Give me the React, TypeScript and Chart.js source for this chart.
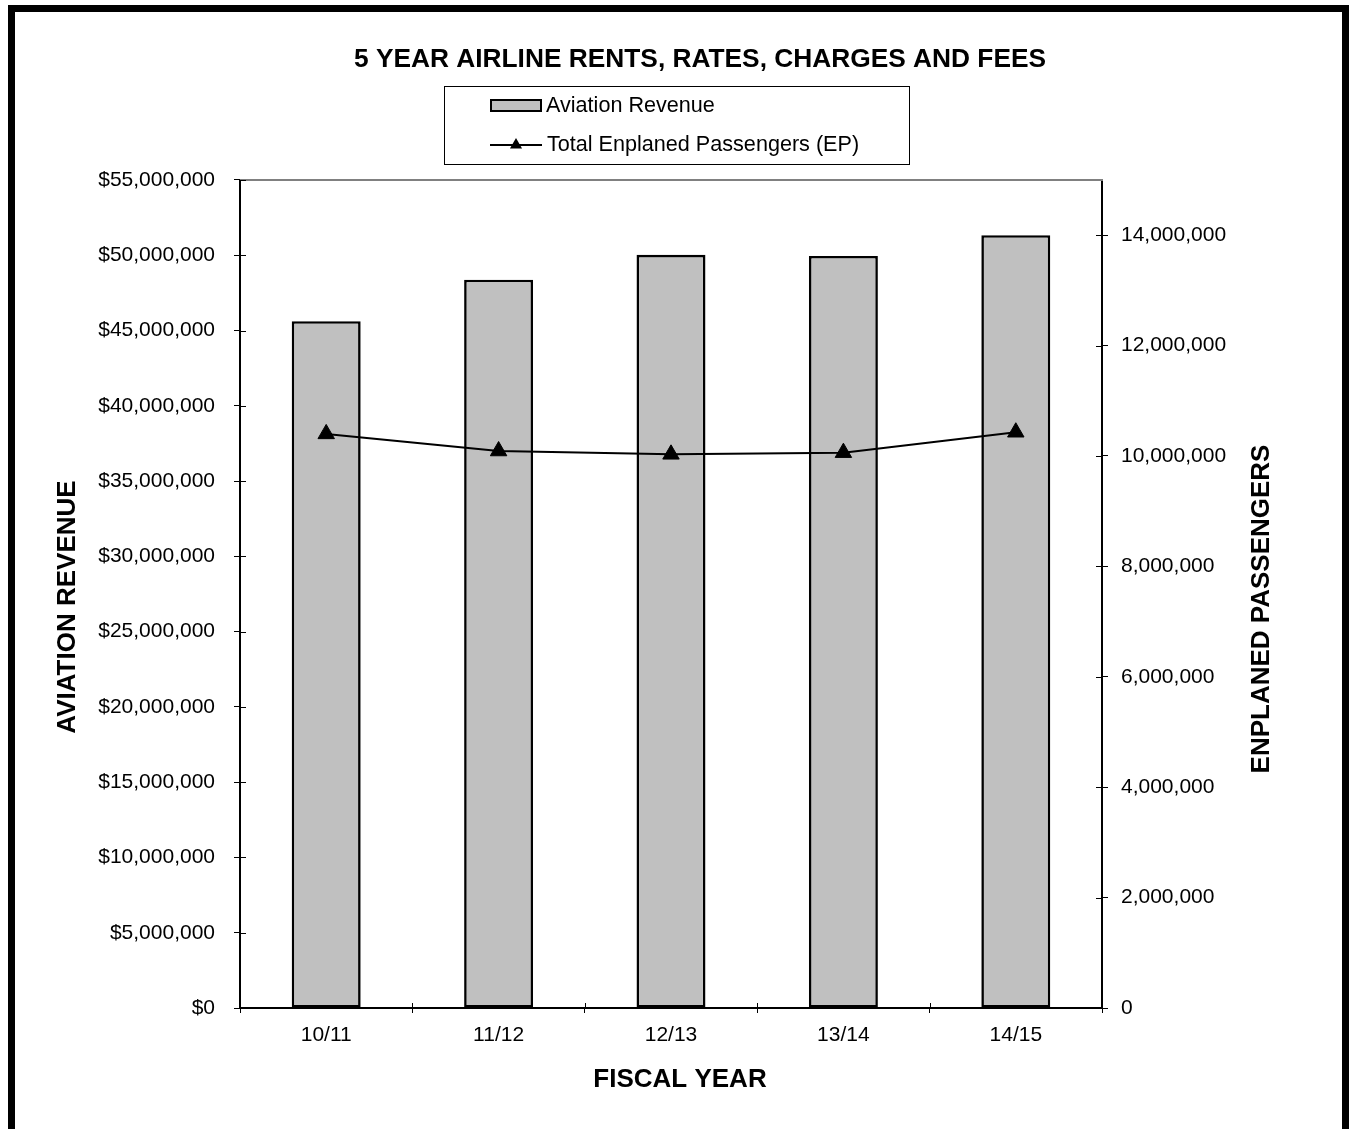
import React, { useEffect, useRef } from 'react';
import { Chart, registerables } from 'chart.js';

Chart.register(...registerables);

// ---- data ----
const categories = ['10/11', '11/12', '12/13', '13/14', '14/15'];
const aviationRevenue = [45620000, 48380000, 50030000, 49950000, 51330000];
const enplanedPassengers = [10400000, 10090000, 10030000, 10060000, 10430000];
const revenueTicks = [0, 5000000, 10000000, 15000000, 20000000, 25000000, 30000000, 35000000, 40000000, 45000000, 50000000, 55000000];
const passengerTicks = [0, 2000000, 4000000, 6000000, 8000000, 10000000, 12000000, 14000000];
const revenueMax = 55000000;
const passengerMax = 15000000;

const chartTitle = '5 YEAR AIRLINE RENTS, RATES, CHARGES AND FEES';
const xTitle = 'FISCAL YEAR';
const yTitle = 'AVIATION REVENUE';
const y1Title = 'ENPLANED PASSENGERS';
const barLabel = 'Aviation Revenue';
const lineLabel = 'Total Enplaned Passengers (EP)';

const FONT = '"Liberation Sans", Arial, Helvetica, sans-serif';
const BAR_FILL = '#c0c0c0';

const decorPlugin = {
  id: 'decor',
  beforeDraw(chart: any) {
    const { ctx, width, height } = chart;
    ctx.save();
    ctx.fillStyle = '#ffffff';
    ctx.fillRect(0, 0, width, height);
    ctx.restore();
  },
  afterDraw(chart: any) {
    const { ctx, chartArea: ca, scales } = chart;
    const line = (x1: number, y1: number, x2: number, y2: number) => {
      ctx.beginPath();
      ctx.moveTo(x1, y1);
      ctx.lineTo(x2, y2);
      ctx.stroke();
    };
    ctx.save();
    // top frame line of plot area
    ctx.strokeStyle = '#808080';
    ctx.lineWidth = 2;
    line(ca.left, ca.top, ca.right + 1, ca.top);

    // inner halves of crossing tick marks
    ctx.strokeStyle = '#000';
    ctx.lineWidth = 1;
    const x = scales.x;
    for (let i = 0; i <= categories.length; i++) {
      const px = Math.round(x.getPixelForValue(i - 0.5)) + 0.5;
      line(px, ca.bottom - 5, px, ca.bottom);
    }
    scales.y.ticks.forEach((t: any) => {
      const py = Math.round(scales.y.getPixelForValue(t.value)) + 0.5;
      line(ca.left, py, ca.left + 6, py);
    });
    scales.y1.ticks.forEach((t: any) => {
      const py = Math.round(scales.y1.getPixelForValue(t.value)) + 0.5;
      line(ca.right - 6, py, ca.right, py);
    });

    // axis titles
    ctx.fillStyle = '#000';
    ctx.font = `bold 26px ${FONT}`;
    ctx.textAlign = 'center';
    ctx.textBaseline = 'middle';
    ctx.fillText(xTitle, 680, 1080);
    ctx.save();
    ctx.translate(68, 607);
    ctx.rotate(-Math.PI / 2);
    ctx.fillText(yTitle, 0, 0);
    ctx.restore();
    ctx.save();
    ctx.translate(1262, 609);
    ctx.rotate(-Math.PI / 2);
    ctx.fillText(y1Title, 0, 0);
    ctx.restore();

    // legend
    ctx.strokeStyle = '#000';
    ctx.lineWidth = 1;
    ctx.strokeRect(444.5, 86.5, 465, 78);
    ctx.fillStyle = BAR_FILL;
    ctx.fillRect(491, 100, 50, 11);
    ctx.lineWidth = 2;
    ctx.strokeRect(491, 100, 50, 11);
    line(490, 145, 542, 145);
    ctx.fillStyle = '#000';
    const r = 7;
    ctx.beginPath();
    ctx.moveTo(516, 145 - r);
    ctx.lineTo(516 + r * 0.866, 145 + r / 2);
    ctx.lineTo(516 - r * 0.866, 145 + r / 2);
    ctx.closePath();
    ctx.fill();
    ctx.font = `21.6px ${FONT}`;
    ctx.textAlign = 'left';
    ctx.fillText(chart.data.datasets[1].label, 546, 106);
    ctx.fillText(chart.data.datasets[0].label, 547, 145);

    // outer thick border
    ctx.strokeStyle = '#000';
    ctx.lineWidth = 7;
    ctx.strokeRect(11.5, 8.5, 1334, 1160);
    ctx.restore();
  },
};

export default function App() {
  const ref = useRef<HTMLCanvasElement>(null);
  useEffect(() => {
    Chart.defaults.font.family = FONT;
    Chart.defaults.color = '#000';
    const chart = new Chart(ref.current as HTMLCanvasElement, {
      type: 'bar',
      data: {
        labels: categories,
        datasets: [
          {
            type: 'line',
            label: lineLabel,
            data: enplanedPassengers,
            yAxisID: 'y1',
            borderColor: '#000',
            borderWidth: 2,
            tension: 0,
            pointStyle: 'triangle',
            pointRadius: 9.5,
            pointBackgroundColor: '#000',
            pointBorderColor: '#000',
            pointBorderWidth: 1,
            order: 0,
          } as any,
          {
            type: 'bar',
            label: barLabel,
            data: aviationRevenue,
            yAxisID: 'y',
            backgroundColor: BAR_FILL,
            borderColor: '#000',
            borderWidth: 2.6,
            borderSkipped: false,
            barPercentage: 0.4,
            categoryPercentage: 1.0,
            order: 1,
          },
        ],
      },
      options: {
        responsive: false,
        animation: false,
        devicePixelRatio: 1,
        layout: { padding: { left: 56, right: 8, top: 0, bottom: 0 } },
        plugins: {
          legend: { display: false },
          tooltip: { enabled: false },
          title: {
            display: true,
            text: chartTitle,
            color: '#000',
            font: { size: 26.3, weight: 'bold', family: FONT, lineHeight: 1.2 },
            padding: { top: 44.2, bottom: 104.2 },
          },
        },
        scales: {
          x: {
            offset: true,
            grid: { drawOnChartArea: false, drawTicks: true, tickLength: 5, color: '#000', lineWidth: 1, offset: true },
            border: { display: true, color: '#000', width: 2 },
            ticks: { font: { size: 21, family: FONT }, color: '#000', padding: 10, maxRotation: 0 },
            afterFit: (s: any) => {
              s.height = 121;
            },
          },
          y: {
            position: 'left',
            min: 0,
            max: revenueMax,
            grid: { drawOnChartArea: false, drawTicks: true, tickLength: 6, color: '#000', lineWidth: 1 },
            border: { display: true, color: '#000', width: 2 },
            afterBuildTicks: (s: any) => {
              s.ticks = revenueTicks.map((v) => ({ value: v }));
            },
            ticks: {
              font: { size: 21, family: FONT },
              color: '#000',
              padding: 19,
              callback: (v: any) => '$' + Number(v).toLocaleString('en-US'),
            },
            afterFit: (s: any) => {
              s.width = 184;
            },
          },
          y1: {
            position: 'right',
            min: 0,
            max: passengerMax,
            grid: { drawOnChartArea: false, drawTicks: true, tickLength: 6, color: '#000', lineWidth: 1 },
            border: { display: true, color: '#000', width: 2 },
            afterBuildTicks: (s: any) => {
              s.ticks = passengerTicks.map((v) => ({ value: v }));
            },
            ticks: {
              font: { size: 21, family: FONT },
              color: '#000',
              padding: 13,
              callback: (v: any) => Number(v).toLocaleString('en-US'),
            },
            afterFit: (s: any) => {
              s.width = 242;
            },
          },
        },
      } as any,
      plugins: [decorPlugin],
    });
    return () => chart.destroy();
  }, []);

  return (
    <div style={{ position: 'absolute', left: 0, top: 0, width: 1352, height: 1129, overflow: 'hidden' }}>
      <canvas ref={ref} width={1352} height={1129} style={{ display: 'block' }} />
    </div>
  );
}
